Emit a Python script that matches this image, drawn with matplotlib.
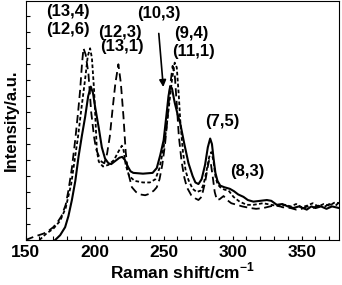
import matplotlib
matplotlib.use('Agg')
import matplotlib.pyplot as plt
from matplotlib.ticker import MultipleLocator

plt.rcParams['font.family'] = ['Liberation Sans', 'DejaVu Sans']
plt.rcParams['font.weight'] = 'bold'
plt.rcParams['mathtext.fontset'] = 'custom'
plt.rcParams['mathtext.rm'] = 'Liberation Sans:bold'
plt.rcParams['mathtext.bf'] = 'Liberation Sans:bold'

# espectro linha cheia
x_solid = [171.4, 175, 178.6, 181, 183.5, 186, 188.3, 190.7, 193.1, 195.3, 197.2, 198.8, 200.4,
           203, 205.2, 207.5, 210, 212, 215, 218, 220, 222, 224, 226, 228, 235, 242, 245, 247.5,
           250, 252, 253.5, 254.7, 256, 258, 260, 262, 265, 268, 271, 273, 275.2, 277.5, 280, 282,
           283.7, 285, 286.3, 287.5, 289, 291, 294, 298, 301, 304, 307.8, 311, 315, 320, 324.8,
           328, 332, 336, 340, 344, 348, 353.7, 357, 360, 364, 368, 372, 377]
y_solid = [0, 0.3, 0.8, 1.5, 2.5, 3.7, 5.2, 6.5, 7.7, 9.0, 9.6, 9.2, 8.3,
           7.0, 5.8, 5.1, 4.8, 4.75, 4.95, 5.15, 5.2, 5.0, 4.6, 4.3, 4.2, 4.15, 4.2, 4.5, 5.3,
           6.25, 7.8, 9.0, 9.6, 9.5, 8.6, 7.9, 7.3, 6.0, 4.8, 4.0, 3.6, 3.5, 3.8, 4.7, 5.8,
           6.35, 6.0, 5.0, 4.2, 3.7, 3.4, 3.3, 3.2, 3.05, 2.85, 2.7, 2.5, 2.4, 2.45, 2.5,
           2.45, 2.2, 2.25, 2.1, 2.0, 2.1, 1.9, 2.1, 2.0, 2.1, 1.95, 2.1, 2.0]

# tracejado curto
x_short = [160, 165, 170, 175, 179, 183, 185.5, 188, 190.5, 193, 195, 196.7, 198, 199.5, 200.6,
           201.6, 203, 206, 210, 214, 217, 219.7, 221, 222.5, 225, 229, 235, 240, 244, 247, 250,
           252, 254, 256, 258, 259.5, 261, 262, 264, 266, 268, 271, 274, 277, 279, 281, 283,
           284.5, 286, 287.5, 289, 291, 294, 297, 300.6, 305, 310.3, 315, 322, 328, 334.4, 338,
           342, 346, 350, 354, 358, 362, 366, 370, 374, 377]
y_short = [0.0, 0.4, 0.7, 1.2, 2.0, 3.5, 5.0, 6.5, 8.3, 10.0, 11.5, 12.0, 11.4, 9.5, 7.5,
           5.6, 4.9, 4.6, 4.7, 5.0, 5.5, 5.9, 5.6, 4.7, 4.0, 3.7, 3.6, 3.6, 3.8, 4.5, 5.8,
           7.0, 8.5, 10.0, 11.1, 10.8, 9.0, 7.5, 5.5, 4.3, 3.75, 3.2, 3.0, 3.1, 3.5, 4.3, 5.2,
           5.5, 5.0, 4.0, 3.5, 3.3, 3.15, 3.1, 2.7, 2.4, 2.2, 2.2, 2.3, 2.2, 2.1, 2.2,
           2.1, 2.25, 2.05, 2.15, 2.3, 2.1, 2.25, 2.15, 2.35, 2.3]

# tracejado longo
x_long = [150, 156, 163, 167, 170, 173, 176, 179, 181, 183.5, 185.9, 188, 189.5, 190.8, 191.9,
          193.5, 195.5, 197.5, 199.5, 201, 202.8, 205, 207, 209, 211, 213, 215, 217.2, 219,
          220.9, 222.5, 224, 227, 230, 233, 236.6, 240, 243, 245, 247, 249, 251, 253, 254.5,
          256.5, 258, 259.5, 261, 263, 265, 266.8, 270, 273, 275.2, 277.5, 280, 282, 283, 284,
          285.5, 287, 288.6, 290.5, 293.4, 296, 299, 303, 307, 312.7, 317, 322.3, 327, 332,
          336, 341.9, 346, 350, 354, 358, 362, 366, 370, 374, 377]
y_long = [0.0, 0.2, 0.4, 0.6, 0.8, 1.1, 1.5, 2.2, 3.1, 4.5, 6.25, 8.0, 9.4, 11.0, 12.0,
          11.6, 10.4, 8.0, 6.5, 5.7, 5.3, 4.9, 4.8, 5.4, 6.5, 8.2, 9.8, 11.0, 9.8,
          7.7, 5.5, 4.3, 3.3, 3.0, 2.85, 2.8, 2.9, 3.1, 3.3, 3.8, 4.7, 6.0, 7.8, 9.5,
          10.9, 10.4, 8.5, 6.5, 4.9, 3.9, 3.3, 2.8, 2.6, 2.5, 2.7, 3.6, 4.6, 5.0, 4.9,
          4.0, 3.0, 2.5, 2.55, 2.75, 2.5, 2.3, 2.2, 2.1, 2.0, 1.95, 2.0, 2.1, 2.2,
          2.05, 2.0, 1.9, 1.95, 2.1, 2.0, 2.15, 2.05, 2.25, 2.1, 2.35]

# rótulos (n,m)
rotulos = ['(13,4)', '(12,6)', '(12,3)', '(13,1)', '(10,3)', '(9,4)', '(11,1)', '(7,5)', '(8,3)']
rot_x = [181, 181, 218.5, 219.7, 246.6, 270.4, 271.6, 292.2, 310.3]
rot_y = [14.3, 13.2, 13.0, 12.1, 14.2, 12.9, 11.8, 7.4, 4.3]

fig = plt.figure(figsize=(3.42, 2.85), dpi=100)
ax = fig.add_axes([0.075, 0.158, 0.916, 0.838])

ax.plot(x_solid, y_solid, color='black', lw=1.5)
ax.plot(x_short, y_short, color='black', lw=1.3, linestyle=(0, (2, 1.3)))
ax.plot(x_long, y_long, color='black', lw=1.3, linestyle=(0, (4.5, 2.5)))

for t, xx, yy in zip(rotulos, rot_x, rot_y):
    ax.text(xx, yy, t, ha='center', va='center', fontsize=12, fontweight='bold')

ax.annotate('', xy=(249.9, 9.4), xytext=(246.3, 13.1),
            arrowprops=dict(arrowstyle='-|>', color='black', lw=1.2, mutation_scale=10))

ax.set_xlim(150, 377)
ax.set_ylim(0, 14.95)
ax.xaxis.set_major_locator(MultipleLocator(50))
ax.xaxis.set_minor_locator(MultipleLocator(10))
ax.yaxis.set_major_locator(MultipleLocator(1))
ax.tick_params(axis='both', which='both', direction='in', length=3, width=0.8,
               top=False, right=False, labelsize=12.5)
ax.tick_params(axis='y', labelleft=False)

ax.set_xlabel('Raman shift/cm$^{\\mathbf{-1}}$', fontsize=12.5, fontweight='bold', labelpad=1)
ax.set_ylabel('Intensity/a.u.', fontsize=12, fontweight='bold', labelpad=5)

fig.savefig('out.png', dpi=100)
